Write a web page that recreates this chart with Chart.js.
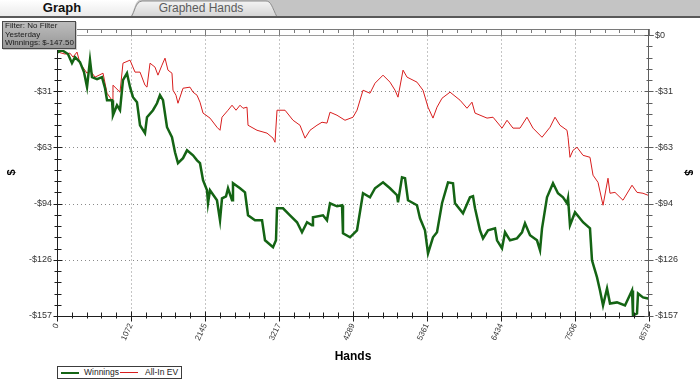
<!DOCTYPE html>
<html lang="en">
<head>
    <meta charset="UTF-8">
    <title>Graph</title>
    <script src="https://cdn.jsdelivr.net/npm/chart.js"></script>
    <style>
        html, body { margin: 0; padding: 0; background: #fff; }
        body { width: 700px; height: 382px; position: relative; overflow: hidden; font-family: "Liberation Sans", Arial, sans-serif; }
        #grafico { position: absolute; left: 0; top: 0; }
        #abas { position: absolute; left: 0; top: 0; }
        #filtro {
            position: absolute; left: 2px; top: 21px; width: 70px; height: 26px;
            border: 1px solid #4a4a4a; background: linear-gradient(#bdbdbd, #979797);
            font-size: 8px; line-height: 8.7px; color: #1a1a1a; padding: 0 0 0 2px;
            box-shadow: 1px 1px 0 #d0d0d0; white-space: nowrap;
        }
        #legenda {
            position: absolute; left: 57px; top: 366px; width: 123px; height: 11px;
            border: 1px solid #3c3c3c; background: #fff; font-size: 8.5px; color: #222;
        }
        #legenda span { position: absolute; top: 0; line-height: 11px; }
        #legenda i { position: absolute; top: 5px; height: 2px; width: 18px; }
    </style>
</head>
<body>

    <canvas id="grafico" width="700" height="382"></canvas>

    <svg id="abas" width="700" height="19">
        <defs>
            <linearGradient id="gAtiva" x1="0" y1="0" x2="0" y2="1">
                <stop offset="0" stop-color="#ffffff"/>
                <stop offset="1" stop-color="#e9e9e9"/>
            </linearGradient>
            <linearGradient id="gOutra" x1="0" y1="0" x2="0" y2="1">
                <stop offset="0" stop-color="#f4f4f4"/>
                <stop offset="1" stop-color="#d4d4d4"/>
            </linearGradient>
        </defs>
        <rect x="0" y="0" width="700" height="17" fill="#c4c4c4"/>
        <path d="M131,17 C135,12 135,2 142,1 L266,1 C271,1 272,7 277,17 Z" fill="url(#gOutra)" stroke="#8c8c8c"/>
        <path d="M0,0 L139,0 C134,3 134,13 130,17 L0,17 Z" fill="url(#gAtiva)"/>
        <rect x="0" y="16" width="700" height="2" fill="#595959"/>
        <text x="62" y="12" text-anchor="middle" font-family="Liberation Sans, Arial" font-weight="bold" font-size="13" fill="#111">Graph</text>
        <text x="201" y="12" text-anchor="middle" font-family="Liberation Sans, Arial" font-size="12" fill="#5c5c5c">Graphed Hands</text>
    </svg>

    <div id="filtro">Filter: No Filter<br>Yesterday<br>Winnings: $-147.50</div>

    <div id="legenda">
        <i style="left:3px; background:#146414;"></i>
        <span style="left:26px;">Winnings</span>
        <i style="left:62px; background:#d81e1e; height:1px; top:5px;"></i>
        <span style="left:87px;">All-In EV</span>
    </div>

    <script>
        // ticks do eixo
        const maosTicks = [0, 1072, 2145, 3217, 4289, 5361, 6434, 7506, 8578];
        const dolarTicks = [0, -31.4, -62.8, -94.2, -125.6, -157];
        const dolarLabels = ['$0', '-$31', '-$63', '-$94', '-$126', '-$157'];

        // Winnings (verde)
        const maosWin = [0,14,72,159,217,261,333,391,435,478,
            507,580,652,696,725,797,811,869,913,956,
            1014,1058,1101,1159,1203,1275,1304,1391,1449,1492,
            1536,1594,1666,1710,1753,1826,1884,1971,2029,2072,
            2116,2174,2188,2217,2318,2362,2391,2449,2478,2536,
            2550,2652,2724,2768,2869,2971,3014,3130,3173,3188,
            3275,3376,3478,3550,3623,3695,3709,3854,3912,3956,
            4057,4130,4144,4246,4347,4434,4535,4608,4724,4825,
            4927,4941,4999,5043,5086,5216,5260,5332,5376,5448,
            5506,5579,5666,5738,5767,5883,5984,6028,6057,6129,
            6173,6245,6347,6376,6448,6492,6564,6665,6738,6781,
            6854,6955,6999,7028,7100,7187,7259,7332,7390,7405,
            7433,7506,7622,7723,7752,7825,7868,7912,7970,8013,
            8114,8230,8332,8346,8404,8419,8491,8563,8578];
        const winnings = [0,-9.5,-8.4,-10.6,-15.7,-12.3,-15.1,-20.7,-29.1,-14,
            -23.5,-24.6,-23.5,-29.7,-36.4,-36.4,-44.8,-39.2,-42,-25.2,
            -21.3,-29.1,-34.7,-37.5,-50.4,-54.8,-45.9,-42,-38.1,-33.6,
            -36.4,-51.5,-57.1,-65.5,-71.6,-68.8,-64.4,-67.2,-70,-71.6,
            -81.1,-86.7,-94,-86.7,-92.3,-103.5,-91.2,-90.1,-85.6,-92.3,
            -82.8,-85.6,-87.9,-100.7,-103.5,-103.5,-114.7,-118.6,-114.7,-96.8,
            -96.8,-100.7,-104.6,-110.2,-104.6,-106.3,-101.8,-100.7,-103.5,-94,
            -95.7,-95.1,-110.8,-113,-109.1,-88.4,-90.7,-85.6,-82.3,-85.6,
            -89.5,-93.5,-79.5,-80,-92.3,-95.1,-102.4,-109.1,-122,-113,
            -110.2,-94,-82.3,-82.8,-94,-99.6,-90.7,-90.1,-96.8,-109.1,
            -113.6,-109.1,-108,-114.7,-119.2,-110.2,-114.7,-113.6,-110.2,-105.2,
            -111.9,-114.7,-120.3,-108,-90.7,-82.8,-88.4,-90.7,-94,-91.2,
            -106.3,-99,-104.6,-108,-125.9,-135.4,-142.7,-151.1,-141.6,-150,
            -149.4,-151.1,-142.7,-156.7,-155.6,-144.4,-146.6,-147.2,-147.5];

        // All-In EV (vermelho)
        const maosEV = [0,14,116,188,232,290,333,435,478,551,
            667,725,797,811,913,956,1058,1130,1203,1275,
            1304,1348,1420,1463,1521,1565,1608,1666,1681,1724,
            1753,1826,1927,1971,2029,2072,2116,2217,2318,2362,
            2391,2478,2536,2594,2652,2695,2753,2768,2898,3043,
            3130,3159,3188,3304,3420,3521,3594,3666,3767,3840,
            3912,3956,4057,4173,4289,4347,4434,4535,4608,4724,
            4825,4898,4941,5014,5072,5216,5303,5376,5448,5506,
            5579,5695,5840,5941,6013,6057,6231,6318,6448,6521,
            6607,6709,6810,6897,7028,7144,7216,7288,7390,7405,
            7433,7477,7535,7622,7723,7767,7839,7912,7984,8013,
            8085,8201,8332,8404,8491,8563,8578];
        const allInEV = [0,-9.5,-10.6,-10.1,-12.3,-9.5,-15.7,-21.3,-19.6,-23.5,
            -21.3,-32.5,-36.4,-28,-31.9,-15.7,-14,-20.7,-20.7,-28,
            -29.1,-15.7,-17.9,-22.4,-16.8,-12.9,-19.6,-21.3,-30.8,-33.6,
            -38.1,-29.7,-29.1,-31.9,-33.6,-37.5,-43.6,-46.4,-51.5,-53.2,
            -45.9,-42,-39.2,-42,-39.2,-40.9,-40.3,-50.4,-53.2,-54.8,
            -57.6,-59.9,-42,-42,-47.6,-50.4,-57.6,-53.2,-50.4,-48.7,
            -49.2,-43.1,-44.8,-47.6,-45.9,-42,-30.8,-32.5,-26.9,-22.4,
            -26.3,-30.8,-34.7,-19.6,-23.5,-26.3,-30.8,-40.3,-46.4,-40.3,
            -35.3,-31.9,-36.4,-40.9,-37.5,-43.6,-46.4,-45.9,-52,-47.6,
            -52,-52,-45.9,-52,-57.1,-51.5,-45.9,-50.4,-53.2,-57.1,
            -68.3,-64.4,-62.7,-67.2,-68.3,-78.3,-82.3,-95.1,-80,-88.4,
            -87.9,-92.3,-83.9,-87.9,-88.4,-89.5,-89.5];

        const pontos = (xs, ys) => xs.map((v, i) => ({ x: v, y: ys[i] }));

        // subdivide cada intervalo entre ticks maiores em 5
        function menores(ticks) {
            const out = [];
            for (let i = 0; i < ticks.length - 1; i++) {
                for (let k = 1; k < 5; k++) out.push(ticks[i] + (ticks[i + 1] - ticks[i]) * k / 5);
            }
            return out;
        }

        function linha(ctx, x1, y1, x2, y2) {
            ctx.beginPath();
            ctx.moveTo(x1, y1);
            ctx.lineTo(x2, y2);
            ctx.stroke();
        }

        const molduraPlugin = {
            id: 'moldura',
            beforeDatasetsDraw(chart) {
                const { ctx, chartArea: a, scales: { x, y } } = chart;
                const y0 = Math.round(y.getPixelForValue(0)) + 0.5;
                ctx.save();
                ctx.lineWidth = 1;
                // grade pontilhada
                ctx.strokeStyle = '#8a8a8a';
                ctx.setLineDash([1, 3]);
                maosTicks.slice(1, -1).forEach(v => {
                    const px = Math.round(x.getPixelForValue(v)) + 0.5;
                    linha(ctx, px, y0, px, a.bottom);
                });
                dolarTicks.slice(1, -1).forEach(v => {
                    const py = Math.round(y.getPixelForValue(v)) + 0.5;
                    linha(ctx, a.left, py, a.right, py);
                });
                ctx.setLineDash([]);
                // linha do $0 e borda superior
                ctx.strokeStyle = '#9a9a9a';
                linha(ctx, a.left, y0, a.right + 5, y0);
                ctx.strokeStyle = '#7a7a7a';
                linha(ctx, a.left, a.top + 0.5, a.right, a.top + 0.5);
                menores(maosTicks).forEach(v => {
                    const px = Math.round(x.getPixelForValue(v)) + 0.5;
                    linha(ctx, px, a.top, px, a.top + 4);
                });
                maosTicks.forEach(v => {
                    const px = Math.round(x.getPixelForValue(v)) + 0.5;
                    linha(ctx, px, a.top, px, y0);
                });
                ctx.restore();
            },
            afterDatasetsDraw(chart) {
                const { ctx, chartArea: a, scales: { x, y } } = chart;
                const esq = Math.round(a.left) + 0.5;
                const dir = Math.round(a.right) - 0.5;
                const base = Math.round(a.bottom) + 0.5;
                ctx.save();
                ctx.lineWidth = 1;
                // eixo esquerdo
                ctx.strokeStyle = '#1e1e1e';
                linha(ctx, esq, a.top, esq, base);
                menores(dolarTicks).forEach(v => {
                    const py = Math.round(y.getPixelForValue(v)) + 0.5;
                    linha(ctx, esq - 3, py, esq + 4, py);
                });
                dolarTicks.forEach(v => {
                    const py = Math.round(y.getPixelForValue(v)) + 0.5;
                    linha(ctx, esq - 4, py, esq + 5, py);
                });
                // eixo de baixo
                linha(ctx, a.left, base, a.right, base);
                menores(maosTicks).forEach(v => {
                    const px = Math.round(x.getPixelForValue(v)) + 0.5;
                    linha(ctx, px, base - 4, px, base + 2);
                });
                maosTicks.forEach(v => {
                    const px = Math.round(x.getPixelForValue(v)) + 0.5;
                    linha(ctx, px, base - 5, px, base + 5);
                });
                // eixo direito
                ctx.strokeStyle = '#5e5e5e';
                linha(ctx, dir, a.top, dir, base);
                menores(dolarTicks).forEach(v => {
                    const py = Math.round(y.getPixelForValue(v)) + 0.5;
                    linha(ctx, dir - 2, py, dir + 4, py);
                });
                dolarTicks.forEach(v => {
                    const py = Math.round(y.getPixelForValue(v)) + 0.5;
                    linha(ctx, dir - 4, py, dir + 5, py);
                });
                ctx.restore();
            }
        };

        Chart.defaults.font.family = '"Liberation Sans", Arial, sans-serif';

        const fonteTick = { size: 9 };
        const fixarDolar = s => { s.ticks = dolarTicks.map(v => ({ value: v })); };
        const rotuloDolar = (v, i) => dolarLabels[i];

        new Chart(document.getElementById('grafico'), {
            type: 'line',
            data: {
                datasets: [
                    {
                        label: 'Winnings',
                        data: pontos(maosWin, winnings),
                        borderColor: '#146414',
                        borderWidth: 2.5,
                        pointRadius: 0,
                        tension: 0,
                        yAxisID: 'y'
                    },
                    {
                        label: 'All-In EV',
                        data: pontos(maosEV, allInEV),
                        borderColor: '#d81e1e',
                        borderWidth: 1,
                        pointRadius: 0,
                        tension: 0,
                        yAxisID: 'y'
                    }
                ]
            },
            options: {
                responsive: false,
                animation: false,
                devicePixelRatio: 1,
                layout: { padding: { top: 29, bottom: 18, left: 0, right: 0 } },
                plugins: { legend: { display: false }, tooltip: { enabled: false } },
                scales: {
                    x: {
                        type: 'linear',
                        min: 0,
                        max: 8578,
                        afterBuildTicks: s => { s.ticks = maosTicks.map(v => ({ value: v })); },
                        afterFit: s => { s.height = 48; },
                        grid: { display: false, drawTicks: false },
                        border: { display: false },
                        ticks: {
                            autoSkip: false, minRotation: 65, maxRotation: 65, padding: 6,
                            font: { size: 8 }, color: '#333',
                            callback: v => String(v)
                        },
                        title: { display: true, text: 'Hands', color: '#000', font: { size: 12, weight: 'bold' }, padding: 0 }
                    },
                    y: {
                        position: 'left',
                        min: -157,
                        max: 3.4,
                        afterBuildTicks: fixarDolar,
                        afterFit: s => { s.width = 57; },
                        grid: { display: false, drawTicks: false },
                        border: { display: false },
                        ticks: { padding: 5, font: fonteTick, color: '#333', callback: rotuloDolar },
                        title: { display: true, text: '$', color: '#000', font: { size: 11, weight: 'bold' }, padding: 5 }
                    },
                    y2: {
                        position: 'right',
                        min: -157,
                        max: 3.4,
                        afterBuildTicks: fixarDolar,
                        afterFit: s => { s.width = 51; },
                        grid: { display: false, drawTicks: false },
                        border: { display: false },
                        ticks: { padding: 6, font: fonteTick, color: '#333', callback: rotuloDolar },
                        title: { display: true, text: '$', color: '#000', font: { size: 11, weight: 'bold' }, padding: 5 }
                    }
                }
            },
            plugins: [molduraPlugin]
        });
    </script>

</body>
</html>
